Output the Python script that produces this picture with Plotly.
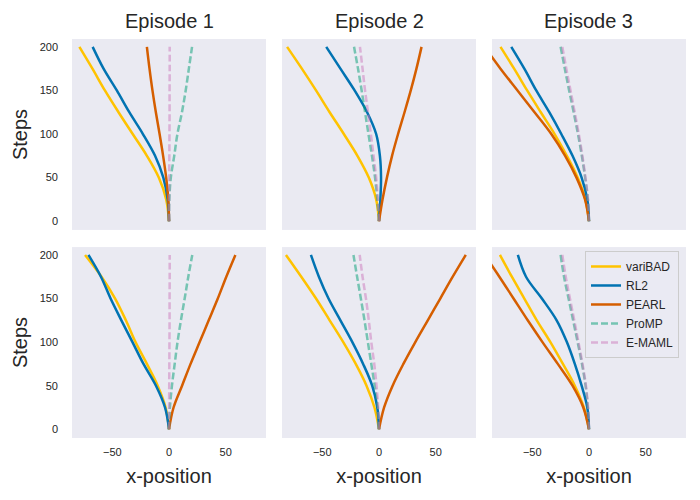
import plotly.graph_objects as go
from plotly.subplots import make_subplots

OUTPUT_FILE = 'out.html'

# Data (x-position per step, one list per episode/panel)
STEPS = [0, 25, 50, 75, 100, 125, 150, 175, 200]
EPISODES = ['Episode 1', 'Episode 2', 'Episode 3']

# panels ordered: row 1 (ep 1, 2, 3), row 2 (ep 1, 2, 3)
VARIBAD = [
	[0, -2.5, -9, -19.5, -32, -44.5, -56.5, -67.5, -79],
	[0, -2.5, -9, -19, -31, -43.5, -55.5, -68, -81],
	[0, -3.2, -10, -19.5, -30.3, -42.5, -54.5, -66, -78],
	[0, -3, -10, -19.5, -29.5, -38, -47.5, -59.5, -74],
	[0, -4, -11, -20.5, -31.5, -43.5, -55.5, -68.5, -82],
	[0, -4.5, -12.5, -23, -34, -46, -57, -68, -78.5],
]
RL2 = [
	[0, -1.2, -5, -12.3, -23, -35, -46, -57.7, -67.3],
	[0, 1.2, 1.8, 0.8, -2.5, -10.5, -21.5, -34, -46.5],
	[0, -1.5, -6.5, -14.5, -24.4, -35, -46.5, -57, -68.5],
	[0, -3.5, -11.5, -22.5, -32.2, -42, -51.5, -60, -71],
	[0, -1.5, -6, -14, -23.5, -34, -44.5, -53, -60],
	[0, -1.5, -6.5, -12.5, -19.5, -28.5, -41.5, -55.5, -62.7],
]
PEARL = [
	[0, -0.6, -2.5, -5.2, -8.3, -11.6, -14.6, -17.2, -19.5],
	[0, 3.1, 7, 11.5, 16.8, 22.5, 28, 33, 37.5],
	[0, -3.5, -11, -21, -33.2, -48, -63, -78, -92],
	[0, 4, 11.5, 19, 27, 35, 43, 50.5, 58.5],
	[0, 4.5, 12, 21.5, 32, 43, 54, 65, 76.5],
	[0, -5, -14.5, -27.5, -41, -54, -66.5, -79, -92],
]
PROMP = [
	[0, 0.3, 1.6, 4.6, 7.4, 11.4, 14.7, 17.5, 20.3],
	[0, -1.5, -3.5, -6.2, -9.3, -12.3, -15.3, -18.5, -22],
	[0, -1, -3.4, -6.3, -9.7, -13.5, -17.5, -21.3, -25],
	[0, 0.8, 2.6, 5, 7.5, 10.5, 13.8, 17, 20.5],
	[0, -1.2, -3.8, -6.8, -9.8, -12.8, -16, -19.3, -22.5],
	[0, -1, -3, -6.2, -10, -14, -18, -22, -25],
]
EMAML = [
	[0, 0.1, 0.2, 0.3, 0.4, 0.5, 0.5, 0.6, 0.6],
	[0, -1, -2.5, -4.8, -7.2, -9.7, -12.3, -14.5, -16.8],
	[0, -0.9, -3.1, -5.8, -9, -12.6, -16.3, -20, -23.5],
	[0, 0.1, 0.2, 0.3, 0.4, 0.5, 0.5, 0.6, 0.6],
	[0, -0.7, -2.2, -4.2, -6.8, -9, -11.5, -14.5, -17],
	[0, -0.8, -2.7, -5.7, -9.3, -13, -16.8, -20.5, -23.5],
]

# name, data, colour, dash
METHODS = [
	('variBAD', VARIBAD, '#FFC300', 'solid'),
	('RL2', RL2, '#0173B2', 'solid'),
	('PEARL', PEARL, '#D55E00', 'solid'),
	('ProMP', PROMP, 'rgba(2,158,115,0.5)', '7px,3px'),
	('E-MAML', EMAML, 'rgba(204,120,188,0.5)', '7px,3px'),
]

FONT = 'Liberation Sans, Arial, sans-serif'
TEXT_COLOR = '#262626'
BG = '#EAEAF2'


def build():
	fig = make_subplots(rows=2, cols=3, subplot_titles=EPISODES,
		shared_xaxes=True, shared_yaxes=True,
		horizontal_spacing=0.026, vertical_spacing=0.043)

	for idx in range(6):
		row, col = idx // 3 + 1, idx % 3 + 1
		for name, data, color, dash in METHODS:
			fig.add_trace(
				go.Scatter(
					x=data[idx], y=STEPS, mode='lines', name=name,
					line=dict(color=color, width=2.5, dash=dash, shape='spline', smoothing=1.0),
					showlegend=(idx == 0), legendgroup=name,
				),
				row=row, col=col
			)

	# page body adds an 8px offset, so margins are shifted to compensate
	fig.update_layout(
		width=700, height=500,
		margin=dict(l=64, r=22, t=31, b=70),
		paper_bgcolor='white', plot_bgcolor=BG,
		font=dict(family=FONT, color=TEXT_COLOR, size=11),
		legend=dict(
			x=0.9886, xanchor='right', y=0.4687, yanchor='top',
			bgcolor='rgba(234,234,242,0.8)', bordercolor='#CCCCCC', borderwidth=1,
			font=dict(size=12), itemwidth=30, tracegroupgap=0,
		),
	)
	for ann in fig.layout.annotations:
		ann.font = dict(size=20, family=FONT, color=TEXT_COLOR)
		ann.yshift = 5

	fig.update_xaxes(range=[-85.5, 85.5], tickvals=[-50, 0, 50], showgrid=False,
		zeroline=False, showline=False, ticks='', ticklabelstandoff=6, automargin=False)
	fig.update_yaxes(range=[-10, 209], tickvals=[0, 50, 100, 150, 200], showgrid=False,
		zeroline=False, showline=False, ticks='', ticklabelstandoff=13, automargin=False)
	for c in range(1, 4):
		fig.update_xaxes(title=dict(text='x-position', font=dict(size=20), standoff=11), row=2, col=c)
	for r in range(1, 3):
		fig.update_yaxes(title=dict(text='Steps', font=dict(size=20), standoff=6), row=r, col=1)

	fig.write_html(OUTPUT_FILE)


if __name__ == '__main__':
	build()
